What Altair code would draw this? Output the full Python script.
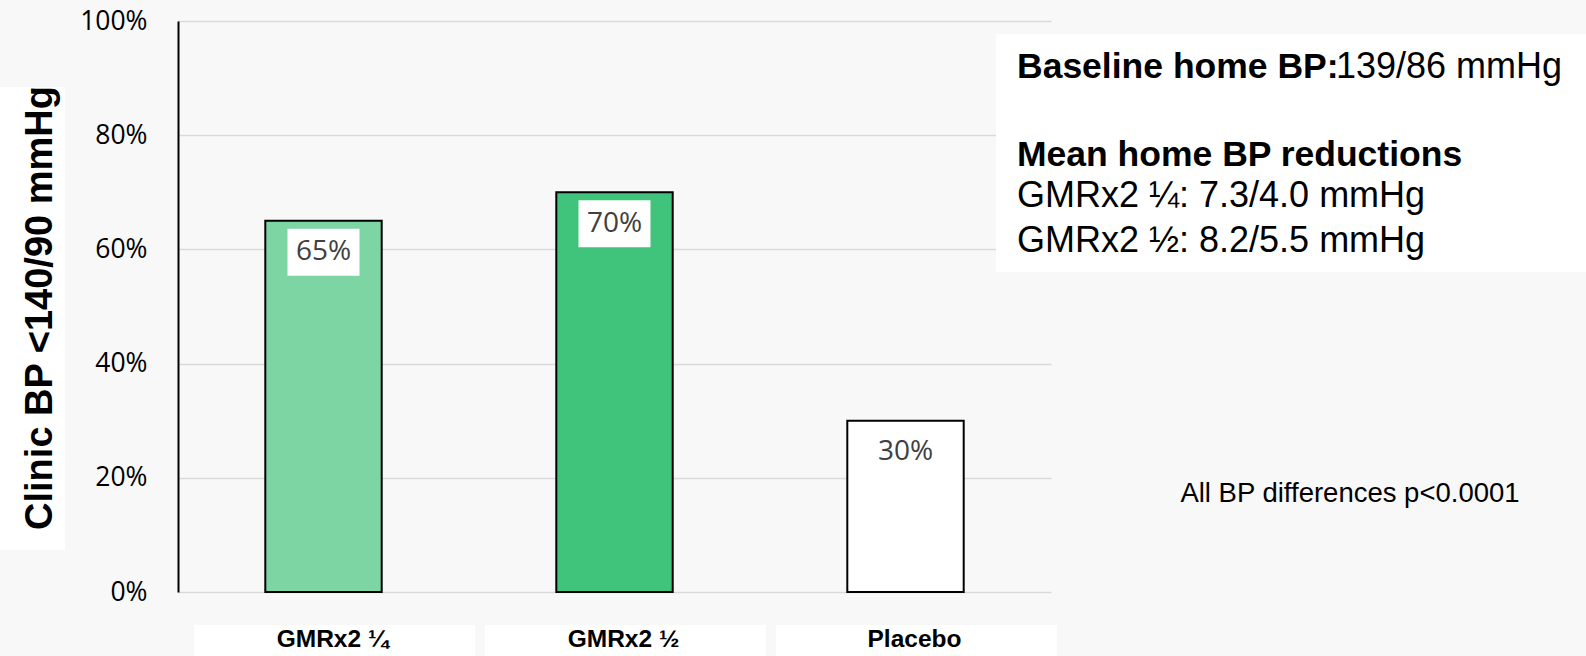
import altair as alt
import pandas as pd

categories = ["GMRx2 ¼", "GMRx2 ½", "Placebo"]
values = [0.65, 0.70, 0.30]
value_labels = ["65%", "70%", "30%"]
bar_colors = ["#7dd5a3", "#40c37a", "#ffffff"]
y_ticks = [0, 0.2, 0.4, 0.6, 0.8, 1.0]
y_title = ["Clinic BP <140/90 mmHg"]
info_bold = ["Baseline home BP:", "Mean home BP reductions"]
info_plain = ["139/86 mmHg", "GMRx2 ¼: 7.3/4.0 mmHg", "GMRx2 ½: 8.2/5.5 mmHg"]
footnote = ["All BP differences p<0.0001"]

W, H = 873, 571
df = pd.DataFrame({"cat": categories, "val": values, "lab": value_labels})

xenc = alt.X("cat:N", sort=categories,
             scale=alt.Scale(domain=categories, paddingInner=0.6, paddingOuter=0.3),
             axis=None)
yenc = alt.Y("val:Q", scale=alt.Scale(domain=[0, 1]),
             axis=alt.Axis(values=y_ticks, format="%", grid=True, gridColor="#d9d9d9",
                           gridWidth=1.5, domainColor="black", domainWidth=2, ticks=False,
                           labelFont="Open Sans", labelFontSize=26.5, labelColor="black",
                           labelPadding=31, title=None))

base = alt.Chart(df)

cat_boxes = base.mark_bar(width=281, xOffset=11, color="white").encode(
    x=xenc, y=alt.value(604), y2=alt.value(640))
cat_text = base.mark_text(font="Liberation Sans", fontWeight="bold", fontSize=24.5,
                          dx=9, baseline="middle", color="black").encode(
    x=xenc, y=alt.value(619), text="cat:N")

bars = base.mark_bar(stroke="black", strokeWidth=2).encode(
    x=xenc, y=yenc,
    color=alt.Color("cat:N", scale=alt.Scale(domain=categories, range=bar_colors), legend=None))

box_path = "M-1,-0.653L1,-0.653L1,0.653L-1,0.653Z"
label_boxes = base.mark_point(shape=box_path, size=5184, filled=True, color="white",
                              opacity=1, yOffset=31.5).encode(x=xenc, y=yenc)
label_text = base.mark_text(font="Open Sans", fontSize=28, color="#404040", dy=31.5,
                            baseline="middle").encode(x=xenc, y=yenc, text="lab:N")

tdf = pd.DataFrame({"t": y_title})
ytitle_box = alt.Chart(tdf).mark_rect(color="white").encode(
    x=alt.value(-178), x2=alt.value(-113), y=alt.value(66), y2=alt.value(529))
ytitle_text = alt.Chart(tdf).mark_text(angle=270, font="Liberation Sans", fontWeight="bold",
                                       fontSize=38, baseline="alphabetic", align="center",
                                       color="black").encode(
    x=alt.value(-126), y=alt.value(287), text="t:N")

info_box = alt.Chart(tdf).mark_rect(color="white").encode(
    x=alt.value(818), x2=alt.value(1420), y=alt.value(13), y2=alt.value(251))


def info_line(txt, x, y, bold, size):
    return alt.Chart(pd.DataFrame({"t": [txt]})).mark_text(
        font="Liberation Sans", fontWeight="bold" if bold else "normal", fontSize=size,
        align="left", baseline="alphabetic", color="black").encode(
        x=alt.value(x), y=alt.value(y), text="t:N")


info_layers = [
    info_line(info_bold[0], 839, 57, True, 35.5),
    info_line(info_plain[0], 1158, 57, False, 36),
    info_line(info_bold[1], 839, 145, True, 35.5),
    info_line(info_plain[1], 839, 186, False, 36),
    info_line(info_plain[2], 839, 231, False, 36),
]

foot = alt.Chart(pd.DataFrame({"t": footnote})).mark_text(
    font="Liberation Sans", fontSize=27.5, align="center", baseline="alphabetic",
    color="black").encode(x=alt.value(1172), y=alt.value(481), text="t:N")

chart = alt.layer(
    cat_boxes, cat_text, bars, label_boxes, label_text, ytitle_box, ytitle_text,
    info_box, *info_layers, foot
).properties(
    width=W, height=H, background="#f8f8f8",
    padding={"left": 178, "top": 21, "right": 535, "bottom": 64},
    autosize=alt.AutoSizeParams(type="none"),
).configure_view(stroke=None)

chart.save("out.html", embed_options={"renderer": "svg", "actions": False})
